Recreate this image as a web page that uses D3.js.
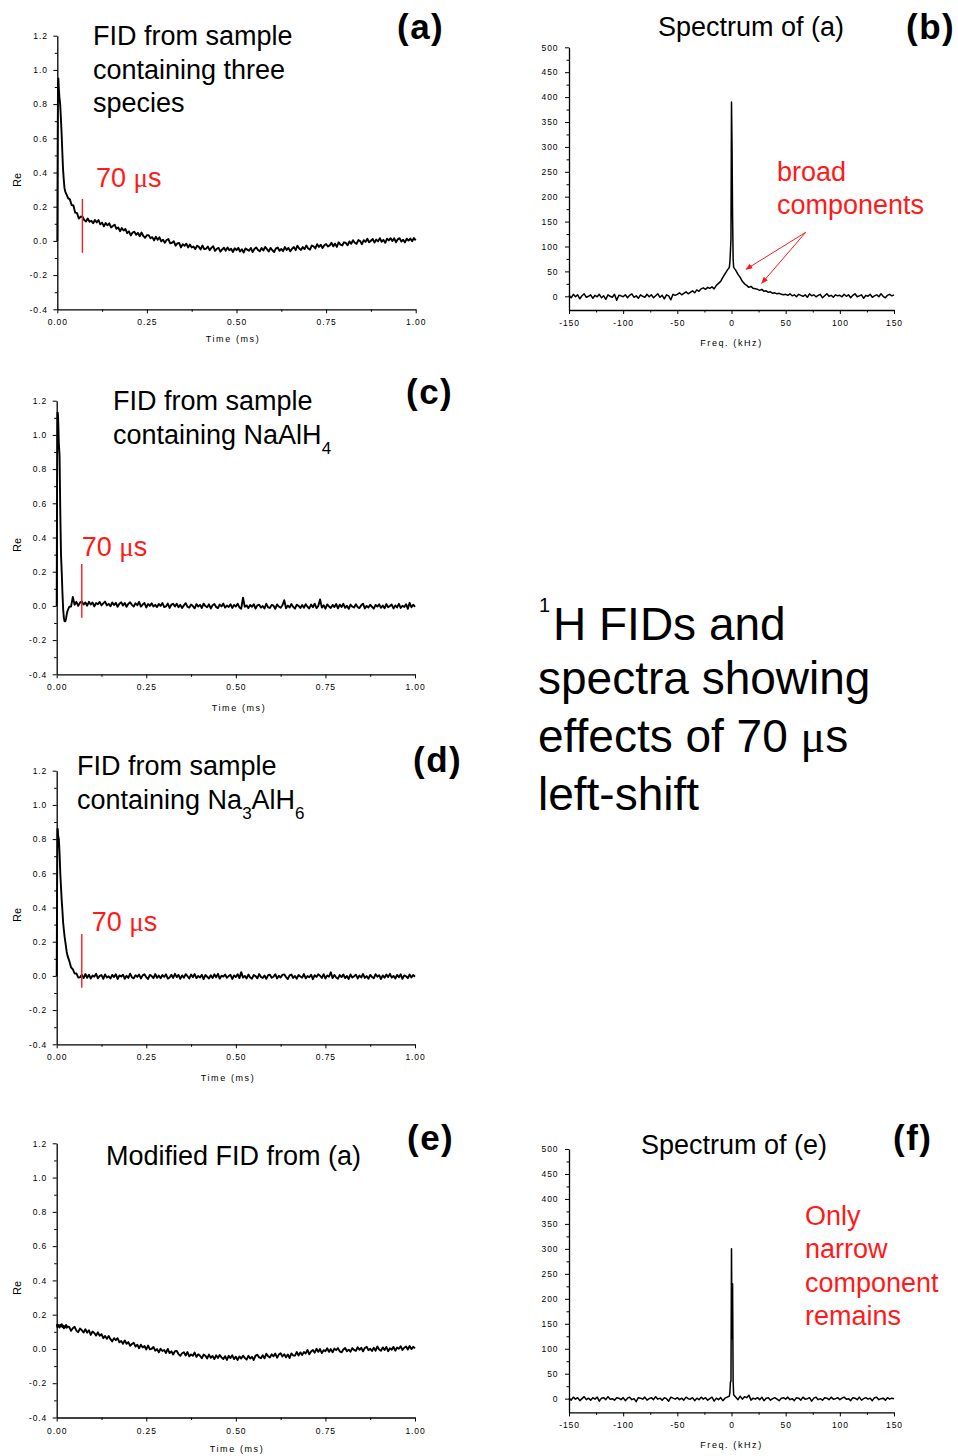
<!DOCTYPE html>
<html>
<head>
<meta charset="utf-8">
<script src="https://cdn.jsdelivr.net/npm/d3@7"></script>
<style>
  html, body { margin: 0; padding: 0; background: #fff; }
  svg { display: block; }
  text { font-family: "Liberation Sans", Arial, sans-serif; }
</style>
</head>
<body>
<svg id="fig" width="958" height="1456"></svg>
<script>
// ---------- sample times of the FIDs (µs) ----------
const fidTimeUs = [
  0,1,2,3,4,6,8,10,12,14,16,18,20,22,24,26,28,30,
  35,40,45,50,55,60,65,70,75,80,85,90,95,100,105,110,115,120,125,130,
  135,140,145,150,155,160,165,170,175,180,185,190,195,200,205,210,215,220,225,230,
  235,240,245,250,255,260,265,270,275,280,285,290,295,300,305,310,315,320,325,330,
  335,340,345,350,355,360,365,370,375,380,385,390,395,400,405,410,415,420,425,430,
  435,440,445,450,455,460,465,470,475,480,485,490,495,500,505,510,515,520,525,530,
  535,540,545,550,555,560,565,570,575,580,585,590,595,600,605,610,615,620,625,630,
  635,640,645,650,655,660,665,670,675,680,685,690,695,700,705,710,715,720,725,730,
  735,740,745,750,755,760,765,770,775,780,785,790,795,800,805,810,815,820,825,830,
  835,840,845,850,855,860,865,870,875,880,885,890,895,900,905,910,915,920,925,930,
  935,940,945,950,955,960,965,970,975,980,985,990,995,1000
];

// (a) FID, sample with three species
const fidA = [
  0,0.55,0.93,0.95,0.9,0.84,0.8,0.72,0.63,0.52,0.42,0.36,0.31,0.29,0.28,0.27,0.26,0.25,
  .243,.210,.207,.165,.163,.131,.141,.143,.122,.113,
  .131,.112,.118,.103,.122,.108,.122,.097,.107,.085,
  .105,.091,.103,.079,.087,.095,.071,.079,.057,.075,
  .061,.070,.045,.056,.032,.049,.054,.036,.047,.027,
  .049,.029,.018,.033,.034,.015,.022,.003,.024,.007,
  .021,-.003,.007,-.011,.005,.011,-.014,-.011,-.002,-.028,
  -.015,-.012,-.038,-.019,-.029,-.016,-.038,-.021,-.038,-.033,
  -.048,-.028,-.035,-.050,-.027,-.048,-.046,-.033,-.054,-.041,
  -.031,-.058,-.046,-.041,-.063,-.050,-.040,-.057,-.038,-.055,
  -.046,-.065,-.043,-.054,-.040,-.062,-.049,-.068,-.044,-.051,
  -.058,-.041,-.065,-.047,-.038,-.053,-.061,-.042,-.056,-.035,
  -.048,-.062,-.041,-.055,-.065,-.044,-.039,-.058,-.047,-.060,
  -.036,-.053,-.041,-.061,-.046,-.036,-.054,-.028,-.045,-.053,
  -.036,-.048,-.027,-.044,-.051,-.027,-.032,-.044,-.019,-.035,
  -.023,-.042,-.025,-.018,-.033,-.026,-.011,-.032,-.016,-.035,
  -.008,-.022,-.027,-.008,-.012,-.026,-.003,-.017,.004,-.011,
  -.017,.005,-.001,-.019,.004,-.006,.013,-.008,.001,.011,
  -.010,.008,-.003,.016,-.005,.006,-.011,.013,.003,.016,
  -.001,.015,-.008,.009,.016,-.004,.007,-.009,.013,.002,
  .014,-.002,.017,.003
];

// (c) FID, sample containing NaAlH4
const fidC = [
  0,0.7,1.13,1.13,1.1,0.95,0.88,0.55,0.3,0.2,0.08,-0.02,-0.07,-0.09,-0.09,-0.075,-0.05,-0.03,
  -.005,-.004,.052,.006,.024,.000,.019,.026,.008,.020,
  .001,.024,.008,.020,-.003,.017,.010,.023,.003,.015,
  .025,.003,.012,-.002,.020,.005,.018,-.005,.013,.021,
  .002,.017,-.005,.013,.021,.006,-.003,.015,.004,.024,
  -.004,.008,.017,-.009,.011,.000,.015,-.003,.006,-.007,
  .011,.000,.017,-.007,-.003,.014,-.012,.007,.012,-.004,
  .013,-.008,.006,-.012,.003,.016,-.005,-.010,.008,-.001,
  -.014,.010,-.004,.006,-.012,.013,-.001,-.008,.009,-.015,
  .004,.011,-.007,-.013,.008,-.003,.014,-.010,.002,-.006,
  .010,-.012,.006,-.004,.013,-.009,-.016,.048,-.005,.003,
  -.013,.005,-.005,.010,-.016,.003,.007,-.010,-.001,-.015,
  .012,-.008,-.012,.006,.001,-.017,.009,-.004,-.011,.004,
  .033,-.014,.002,-.009,.011,-.006,-.016,.007,.000,-.012,
  .005,-.011,.010,-.005,-.015,.008,-.008,.013,-.013,-.001,
  .038,-.010,.004,-.016,.009,-.003,-.012,.006,-.007,.011,
  -.014,.007,-.006,.012,-.011,.001,-.017,.008,-.004,-.009,
  .010,-.007,-.013,.004,.013,-.015,.000,-.010,.007,-.005,
  -.016,.006,-.004,.009,-.011,.002,-.014,.011,-.008,-.001,
  .008,-.015,.003,-.009,.012,-.012,.001,-.006,.010,-.017,
  .018,-.008,.007,-.005
];

// (d) FID, sample containing Na3AlH6
const fidD = [
  0,0.5,0.86,0.86,0.82,0.8,0.72,0.6,0.52,0.44,0.38,0.31,0.27,0.23,0.2,0.17,0.14,0.12,
  .088,.050,.039,.014,.015,-.009,-.008,.007,-.013,.011,
  -.011,.007,-.016,.002,-.005,.012,-.014,.000,.005,-.017,
  .009,-.010,-.002,-.015,.006,-.007,.010,-.018,.003,-.004,
  .007,-.017,.001,-.012,.013,-.009,-.014,.004,-.006,.008,
  -.015,.003,.010,-.008,-.018,.006,-.001,-.013,.011,-.011,
  .002,-.014,.005,-.006,.009,-.016,-.009,.007,-.012,.012,
  -.007,.006,-.017,.003,-.011,.010,-.002,-.015,.008,-.008,
  .011,-.013,.000,-.010,.007,-.019,.005,-.005,-.015,.004,
  -.012,.009,-.008,.012,-.016,.001,-.004,.008,-.011,-.001,
  .006,-.018,.003,-.007,.010,-.013,.022,-.010,.000,-.015,
  .008,-.009,-.016,.005,-.001,-.014,.011,-.006,-.012,.002,
  -.017,.004,.007,-.011,-.005,.010,-.015,.001,-.009,.006,
  .009,-.007,-.018,.003,.008,-.012,.000,-.016,.005,-.004,
  -.011,.011,-.014,-.001,-.008,.007,-.019,.004,-.006,.009,
  .001,-.012,.010,-.015,.003,-.005,.021,-.013,.006,-.009,
  -.016,.005,-.007,.008,-.013,.000,-.018,.009,-.010,-.002,
  .007,-.015,.002,-.009,.011,-.012,-.001,-.017,.006,-.006,
  -.014,.010,-.005,.004,-.018,.003,-.011,.008,-.007,.012,
  -.010,.000,-.015,.006,-.008,.009,-.017,.003,-.002,-.013,
  .008,-.009,.005,-.005
];

// (e) FID of (a) after the 70 µs left-shift
const fidE = [
  .135,.14,.128,.142,.13,.138,.125,.14,.132,.145,.128,.136,.12,.133,.127,.14,.124,.131,
  .128,.106,.121,.129,.107,.098,.119,.110,.096,.115,
  .095,.109,.082,.102,.093,.078,.097,.077,.086,.063,
  .076,.059,.075,.057,.044,.063,.051,.063,.039,.047,
  .030,.050,.030,.040,.018,.029,.036,.014,.025,.004,
  .025,.009,.017,-.003,.020,-.002,.001,.012,-.010,-.001,
  -.019,.001,-.012,-.006,-.023,.000,-.024,-.014,-.032,-.013,
  -.012,-.030,-.040,-.025,-.019,-.038,-.018,-.043,-.032,-.040,
  -.021,-.046,-.031,-.040,-.054,-.033,-.040,-.055,-.033,-.052,
  -.041,-.059,-.037,-.053,-.035,-.049,-.059,-.042,-.064,-.040,
  -.053,-.037,-.059,-.045,-.064,-.044,-.056,-.039,-.052,-.062,
  -.040,-.056,-.046,-.064,-.039,-.034,-.049,-.054,-.037,-.055,
  -.028,-.042,-.050,-.031,-.043,-.027,-.051,-.033,-.025,-.044,
  -.031,-.048,-.032,-.053,-.026,-.038,-.039,-.018,-.038,-.020,
  -.035,-.018,-.026,-.006,-.031,-.015,-.006,-.022,.001,-.017,
  -.001,-.024,-.007,-.013,.004,-.017,-.001,-.019,.002,-.007,
  .005,-.014,-.020,-.003,.006,-.013,-.004,-.016,.005,-.006,
  -.011,.010,-.005,.007,-.014,.006,.013,-.007,.001,-.012,
  .007,-.010,.015,-.003,-.011,.009,-.006,.012,-.013,.004,
  -.004,.012,-.010,.008,.001,.016,-.006,.007,.014,-.003,
  .017,-.001,.013,.003
];

// ---------- spectra: frequency points (kHz) ----------
const specFreq = [
  -150,-148,-146,-144,-142,-140,-138,-136,-134,-132,-130,-128,-126,-124,-122,-120,-118,-116,-114,-112,-110,-108,-106,-104,-102,
  -100,-98,-96,-94,-92,-90,-88,-86,-84,-82,-80,-78,-76,-74,-72,-70,-68,-66,-64,-62,-60,-58,-56,-54,-52,
  -50,-48,-46,-44,-42,-40,-38,-36,-34,-32,-30,-28,
  -26,-24,-22,-20,-18,-16,-14,-12,-10,-8,-6,-4,
  -2,
  -1.5,-1,-0.5,0,0.5,1,1.5,
  2,4,6,8,10,12,14,16,18,20,22,24,
  26,28,30,32,34,36,38,40,42,44,46,48,
  50,52,54,56,58,60,62,64,66,68,70,72,74,76,78,80,82,84,86,88,90,92,94,96,98,
  100,102,104,106,108,110,112,114,116,118,120,122,124,126,128,130,132,134,136,138,140,142,144,146,148,150
];

// (b) spectrum of (a)
const specB = [
  2,-3,4,-1,3,-5,1,5,-2,0,3,-4,2,-1,4,-3,1,-6,3,0,-2,4,-8,2,1,
  -1,3,-3,2,5,-2,1,-4,3,0,-2,4,-1,3,-3,1,5,-2,2,-5,3,1,-7,4,2,
  4,7,3,6,9,5,8,11,7,13,10,15,
  17,14,18,16,19,15,22,26,30,38,45,52,
  58,
  68,90,115,390,300,160,75,
  58,52,44,38,30,25,22,18,20,16,15,14,
  12,14,10,11,8,9,6,7,5,6,4,3,
  4,2,5,1,3,-1,4,2,0,3,-2,5,1,3,-1,2,4,-3,1,5,0,2,-2,3,1,
  2,-1,4,0,3,-3,2,5,-1,1,3,-4,2,0,4,-2,1,3,-1,5,0,-3,2,4,1,3
];

// (f) spectrum of (e)
const specF = [
  1,-3,3,-1,2,-4,0,4,-2,1,-3,2,-1,3,-5,1,2,-2,4,-1,0,-3,2,1,-2,
  2,-4,1,3,-2,0,-6,2,1,-1,3,-3,0,2,-2,4,-1,1,-3,2,0,-5,3,1,-1,
  2,-2,1,-3,3,0,-1,2,-4,1,-2,3,
  -1,2,-3,0,3,-5,1,-2,2,-4,1,3,
  5,
  12,33,35,300,120,230,35,
  8,3,-2,5,-1,4,2,7,-3,1,-1,2,
  -2,3,-4,1,2,-3,0,2,-1,-4,1,2,
  -1,3,-2,0,-4,2,1,-3,3,-1,0,2,-5,1,3,-2,0,-3,2,1,-2,3,-1,0,2,
  -2,1,3,-1,0,-4,2,1,-2,3,-3,0,2,-1,1,-4,2,3,-2,0,1,-3,2,-1,1,0
];

// ---------- axis ticks ----------
const fidYTicks = [-0.4, -0.2, 0, 0.2, 0.4, 0.6, 0.8, 1.0, 1.2];
const fidYMinor = [-0.3, -0.1, 0.1, 0.3, 0.5, 0.7, 0.9, 1.1];
const fidXTicks = [0, 0.25, 0.5, 0.75, 1.0];
const fidXMinor = [0.125, 0.375, 0.625, 0.875];
const specXTicks = [-150, -100, -50, 0, 50, 100, 150];
const specXMinor = [-125, -75, -25, 25, 75, 125];
const specYTicks = [0, 50, 100, 150, 200, 250, 300, 350, 400, 450, 500];
const specYMinor = [25, 75, 125, 175, 225, 275, 325, 375, 425, 475];

const shiftUs = 70;           // left-shift applied to the FID
const markerRange = [-0.07, 0.245];

// ---------- drawing ----------
const svg = d3.select("#fig");
svg.append("rect").attr("width", 958).attr("height", 1456).attr("fill", "#fff");

const SANS = "Liberation Sans, Arial, sans-serif";
const SERIF = "Liberation Serif, Times New Roman, serif";
const RED = "#ff1a1a";
const minus = s => s.replace("\u2212", "-");

function styleAxis(g) {
  g.attr("font-family", SANS).attr("font-size", 8.5);
  g.select(".domain").attr("stroke", "#000").attr("stroke-width", 1.3);
  g.selectAll(".tick line").attr("stroke", "#000").attr("stroke-width", 1);
  g.selectAll(".tick text").attr("fill", "#000").attr("letter-spacing", "0.9px");
}

function minorAxis(g, axis) {
  g.call(axis.tickSize(2.5).tickFormat("").tickSizeOuter(0));
  g.select(".domain").remove();
  g.selectAll(".tick line").attr("stroke", "#000").attr("stroke-width", 1);
}

function axisTitle(x, y, label, rotate) {
  const t = svg.append("text")
    .attr("x", x).attr("y", y)
    .attr("text-anchor", "middle")
    .attr("font-size", rotate ? 11 : 9)
    .attr("letter-spacing", rotate ? "0px" : "1.6px")
    .attr("fill", "#000")
    .text(label);
  if (rotate) t.attr("transform", `rotate(-90,${x},${y})`).attr("dy", "0.35em");
}

// text with a Symbol-style µ
function muText(sel, before, after) {
  sel.append("tspan").text(before);
  sel.append("tspan").attr("font-family", SERIF).text("\u03bc");
  sel.append("tspan").text(after);
}

function panelLabel(x, y, s) {
  svg.append("text").attr("x", x).attr("y", y)
    .attr("font-size", 35).attr("font-weight", "bold")
    .attr("letter-spacing", "1.5px").attr("fill", "#000").text(s);
}

function titleLines(x, ys, parts) {
  parts.forEach((line, i) => {
    const t = svg.append("text").attr("x", x).attr("y", ys[i])
      .attr("font-size", 27).attr("fill", "#000");
    line.forEach(seg => {
      const sp = t.append("tspan").text(seg.s);
      if (seg.sub) sp.attr("font-size", 17).attr("dy", 10);
      if (seg.back) sp.attr("dy", -10);
    });
  });
}

const fidPanels = [
  { values: fidA, left: 57.3, right: 415.7, top: 35.7, bottom: 309.3,
    timeX: 233, timeY: 341.5, reY: 180, marker: true, muAt: [0.108, 0.318] },
  { values: fidC, left: 56.7, right: 415, top: 400.7, bottom: 674.3,
    timeX: 239, timeY: 711, reY: 545, marker: true, muAt: [0.07, 0.289] },
  { values: fidD, left: 56.7, right: 415, top: 770.7, bottom: 1044.3,
    timeX: 228, timeY: 1081, reY: 915, marker: true, muAt: [0.098, 0.263] },
  { values: fidE, left: 56.7, right: 415, top: 1143.3, bottom: 1417.5,
    timeX: 237, timeY: 1452, reY: 1288, marker: false }
];

fidPanels.forEach(p => {
  const x = d3.scaleLinear().domain([0, 1]).range([p.left, p.right]);
  const y = d3.scaleLinear().domain([-0.4, 1.2]).range([p.bottom, p.top]);

  svg.append("g").attr("transform", `translate(0,${p.bottom})`)
    .call(g => minorAxis(g, d3.axisBottom(x).tickValues(fidXMinor)));
  svg.append("g").attr("transform", `translate(${p.left},0)`)
    .call(g => minorAxis(g, d3.axisLeft(y).tickValues(fidYMinor)));

  svg.append("g").attr("transform", `translate(0,${p.bottom})`)
    .call(d3.axisBottom(x).tickValues(fidXTicks).tickSize(4).tickSizeOuter(0)
      .tickPadding(6).tickFormat(d => minus(d3.format(".2f")(d))))
    .call(styleAxis);
  svg.append("g").attr("transform", `translate(${p.left},0)`)
    .call(d3.axisLeft(y).tickValues(fidYTicks).tickSize(4).tickSizeOuter(0)
      .tickPadding(5.5).tickFormat(d => minus(d3.format(".1f")(d))))
    .call(styleAxis);

  axisTitle(p.timeX, p.timeY, "Time (ms)");
  axisTitle(17, p.reY, "Re", true);

  const pts = d3.zip(fidTimeUs, p.values).map(([t, v]) => [t / 1000, v]);
  svg.append("path").datum(pts)
    .attr("fill", "none").attr("stroke", "#000").attr("stroke-width", 1.9)
    .attr("stroke-linejoin", "round")
    .attr("d", d3.line().x(d => x(d[0])).y(d => y(d[1])));

  if (p.marker) {
    svg.append("line")
      .attr("x1", x(shiftUs / 1000)).attr("x2", x(shiftUs / 1000))
      .attr("y1", y(markerRange[1])).attr("y2", y(markerRange[0]))
      .attr("stroke", RED).attr("stroke-width", 1.4);
    const t = svg.append("text").attr("x", x(p.muAt[0])).attr("y", y(p.muAt[1]))
      .attr("font-size", 27).attr("fill", RED);
    muText(t, shiftUs + " ", "s");
  }
});

const specPanels = [
  { values: specB, top: 47.3, bottom: 310, freqY: 345.5 },
  { values: specF, top: 1149, bottom: 1412.4, freqY: 1447.5 }
];

const specScales = specPanels.map(p => {
  const x = d3.scaleLinear().domain([-150, 150]).range([569, 894]);
  const y = d3.scaleLinear().domain([-27.5, 500]).range([p.bottom, p.top]);

  svg.append("g").attr("transform", `translate(0,${p.bottom})`)
    .call(g => minorAxis(g, d3.axisBottom(x).tickValues(specXMinor)));
  svg.append("g").attr("transform", `translate(569,0)`)
    .call(g => minorAxis(g, d3.axisLeft(y).tickValues(specYMinor)));

  svg.append("g").attr("transform", `translate(0,${p.bottom})`)
    .call(d3.axisBottom(x).tickValues(specXTicks).tickSize(4).tickSizeOuter(0)
      .tickPadding(6).tickFormat(d => minus(d3.format("d")(d))))
    .call(styleAxis);
  svg.append("g").attr("transform", `translate(569,0)`)
    .call(d3.axisLeft(y).tickValues(specYTicks).tickSize(4).tickSizeOuter(0)
      .tickPadding(6.5).tickFormat(d => minus(d3.format("d")(d))))
    .call(styleAxis);

  axisTitle(731.5, p.freqY, "Freq. (kHz)");

  const pts = d3.zip(specFreq, p.values);
  svg.append("path").datum(pts)
    .attr("fill", "none").attr("stroke", "#000").attr("stroke-width", 1.5)
    .attr("stroke-linejoin", "round")
    .attr("d", d3.line().x(d => x(d[0])).y(d => y(d[1])));
  return { x, y };
});

// ---------- titles ----------
titleLines(93, [45, 78.5, 111.5], [
  [{ s: "FID from sample" }], [{ s: "containing three" }], [{ s: "species" }]
]);
titleLines(113, [410, 443.5], [
  [{ s: "FID from sample" }], [{ s: "containing NaAlH" }, { s: "4", sub: true }]
]);
titleLines(77, [775, 808.5], [
  [{ s: "FID from sample" }],
  [{ s: "containing Na" }, { s: "3", sub: true }, { s: "AlH", back: true }, { s: "6", sub: true }]
]);
titleLines(106, [1165], [[{ s: "Modified FID from (a)" }]]);
titleLines(658, [36], [[{ s: "Spectrum of (a)" }]]);
titleLines(641, [1154], [[{ s: "Spectrum of (e)" }]]);

panelLabel(397, 38.5, "(a)");
panelLabel(906, 38.5, "(b)");
panelLabel(406, 404, "(c)");
panelLabel(413, 771.5, "(d)");
panelLabel(407, 1150, "(e)");
panelLabel(893, 1150, "(f)");

// ---------- red notes on the spectra ----------
const noteB = ["broad", "components"];
noteB.forEach((s, i) => {
  svg.append("text").attr("x", 777).attr("y", 180.5 + i * 33)
    .attr("font-size", 27).attr("fill", RED).text(s);
});
const noteF = ["Only", "narrow", "component", "remains"];
noteF.forEach((s, i) => {
  svg.append("text").attr("x", 805).attr("y", 1225 + i * 33.4)
    .attr("font-size", 27).attr("fill", RED).text(s);
});

// arrows pointing at the broad wings (kHz, amplitude)
const arrowFrom = [68.5, 128.5];
const arrowTips = [[13.4, 54.2], [27.9, 26.1]];
svg.append("defs").append("marker")
  .attr("id", "arrowhead").attr("viewBox", "0 0 10 10")
  .attr("refX", 9).attr("refY", 5)
  .attr("markerWidth", 7).attr("markerHeight", 7)
  .attr("markerUnits", "userSpaceOnUse")
  .attr("orient", "auto")
  .append("path").attr("d", "M0,1 L10,5 L0,9 Z").attr("fill", RED);
const sb = specScales[0];
arrowTips.forEach(tip => {
  svg.append("line")
    .attr("x1", sb.x(arrowFrom[0])).attr("y1", sb.y(arrowFrom[1]))
    .attr("x2", sb.x(tip[0])).attr("y2", sb.y(tip[1]))
    .attr("stroke", RED).attr("stroke-width", 1)
    .attr("marker-end", "url(#arrowhead)");
});

// ---------- caption in the middle of the right column ----------
svg.append("text").attr("x", 539).attr("y", 612).attr("font-size", 20).attr("fill", "#000").text("1");
svg.append("text").attr("x", 553).attr("y", 640).attr("font-size", 46).attr("fill", "#000").text("H FIDs and");
svg.append("text").attr("x", 538).attr("y", 694).attr("font-size", 46).attr("fill", "#000").text("spectra showing");
const cap3 = svg.append("text").attr("x", 538).attr("y", 752).attr("font-size", 46).attr("fill", "#000");
muText(cap3, "effects of " + shiftUs + " ", "s");
svg.append("text").attr("x", 538).attr("y", 810).attr("font-size", 46).attr("fill", "#000").text("left-shift");
</script>
</body>
</html>
